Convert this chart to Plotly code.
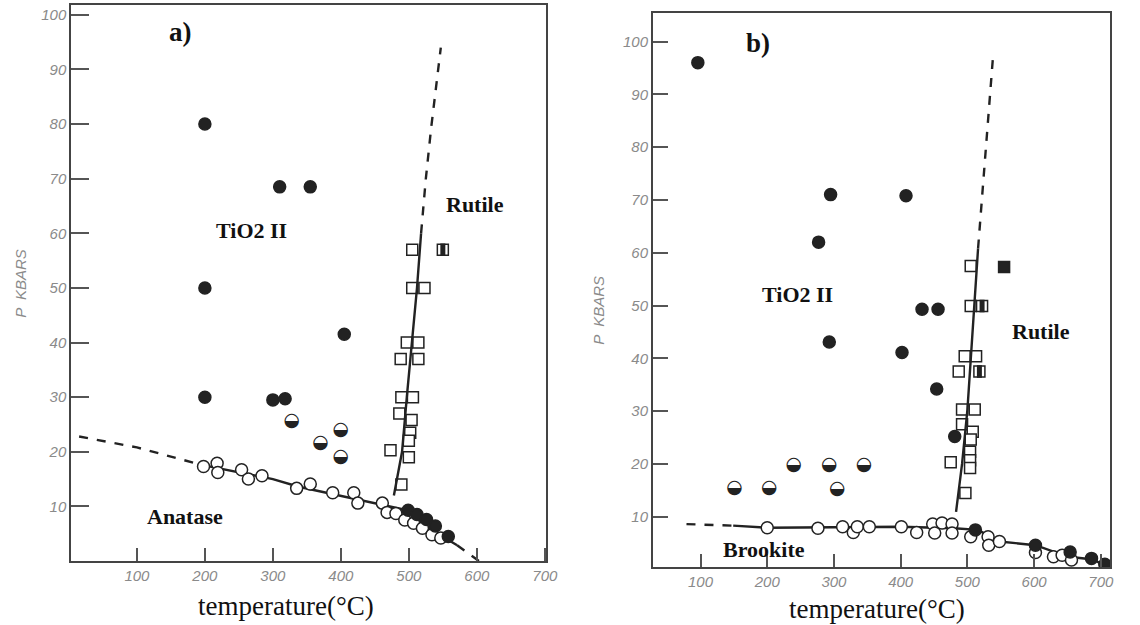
import plotly.graph_objects as go

# ---------------- Panel a data ----------------
a_ii_T = [200, 310, 355, 200, 405, 200, 300, 318]
a_ii_P = [80, 68.5, 68.5, 50, 41.5, 30, 29.5, 29.7]
a_half_T = [328, 370, 400, 400]
a_half_P = [25.5, 21.5, 24, 19]
a_open_T = [198, 218, 219, 254, 264, 284, 335, 355, 388, 419, 425, 461, 468, 481, 494, 507, 520, 534, 547]
a_open_P = [17.3, 17.9, 16.2, 16.7, 15.0, 15.6, 13.3, 14.1, 12.5, 12.5, 10.6, 10.6, 8.9, 8.7, 7.5, 6.9, 6.0, 4.8, 4.2]
a_dark_T = [499, 512, 526, 539, 558]
a_dark_P = [9.3, 8.5, 7.6, 6.4, 4.5]
a_sq_T = [505, 505, 523, 497, 514, 488, 514, 489, 506, 486, 504, 502, 473, 500, 500, 489]
a_sq_P = [57, 50, 50, 40, 40, 37, 37, 30, 30, 27, 25.8, 23.5, 20.3, 22, 19, 14]
a_hsq_T = [550]
a_hsq_P = [57]
a_rut_solid_T = [478, 490, 497, 505, 512, 518]
a_rut_solid_P = [12, 20, 30, 40, 50, 60]
a_rut_dash_T = [518, 525, 533, 540, 547]
a_rut_dash_P = [60, 70, 79.5, 87, 94]
a_ana_dash_T = [15, 100, 195]
a_ana_dash_P = [22.8, 20.8, 17.6]
a_ana_solid_T = [195, 300, 338, 428, 497, 533, 571]
a_ana_solid_P = [17.6, 15, 13.6, 11.2, 9.3, 5.7, 2.9]
a_ana_end_T = [571, 603]
a_ana_end_P = [2.9, 0]

# ---------------- Panel b data ----------------
b_ii_T = [96, 295, 408, 277, 432, 456, 293, 402, 454, 481]
b_ii_P = [96, 71, 70.8, 62, 49.3, 49.3, 43.1, 41.1, 34.2, 25.2]
b_half_T = [151, 203, 240, 293, 305, 345]
b_half_P = [15.3, 15.3, 19.8, 19.8, 15.2, 19.8]
b_open_T = [200, 276, 313, 329, 335, 353, 401, 424, 448, 451, 462, 477, 477, 505, 531, 532, 548, 602, 629, 642, 656]
b_open_P = [7.9, 7.8, 8.1, 7.0, 8.1, 8.1, 8.1, 7.0, 8.6, 6.9, 8.8, 8.6, 6.9, 6.2, 6.2, 4.6, 5.3, 3.2, 2.4, 2.7, 1.8]
b_dark_T = [512, 602, 654, 686, 706]
b_dark_P = [7.5, 4.6, 3.3, 2.1, 1.0]
b_sq_T = [505, 505, 496, 513, 487, 492, 511, 492, 508, 505, 504, 504, 504, 475, 497]
b_sq_P = [57.5, 49.9, 40.4, 40.4, 37.5, 30.3, 30.3, 27.5, 26.1, 24.6, 22.3, 20.7, 19.2, 20.3, 14.5]
b_hsq_T = [522, 518]
b_hsq_P = [49.9, 37.5]
b_fsq_T = [555]
b_fsq_P = [57.3]
b_rut_solid_T = [483, 492, 500, 505, 510, 516]
b_rut_solid_P = [10.9, 20, 30.2, 40, 47.9, 60.8]
b_rut_dash_T = [516, 527, 538]
b_rut_dash_P = [60.8, 79, 96.5]
b_brk_dash_T = [79, 149]
b_brk_dash_P = [8.6, 8.3]
b_brk_solid_T = [149, 200, 300, 400, 480, 516, 548, 602, 651, 689, 708]
b_brk_solid_P = [8.3, 7.9, 8.0, 8.1, 7.8, 7.5, 5.3, 4.6, 2.4, 1.9, 0.5]

x_ticks = [100, 200, 300, 400, 500, 600, 700]
y_ticks = [10, 20, 30, 40, 50, 60, 70, 80, 90, 100]

INK = "#222222"
fig = go.Figure()


def line(x, y, xa, ya, dash="solid", w=2.4):
    fig.add_trace(go.Scatter(x=x, y=y, mode="lines", xaxis=xa, yaxis=ya,
                             line=dict(color=INK, width=w, dash=dash), hoverinfo="skip"))


def marks(x, y, xa, ya, symbol, fill, size=12, lw=1.5):
    fig.add_trace(go.Scatter(x=x, y=y, mode="markers", xaxis=xa, yaxis=ya,
                             marker=dict(symbol=symbol, size=size, color=fill,
                                         line=dict(color=INK, width=lw))))


def glyph(x, y, xa, ya, ch, size=19):
    fig.add_trace(go.Scatter(x=x, y=y, mode="text", xaxis=xa, yaxis=ya,
                             text=[ch] * len(x), textposition="middle center",
                             textfont=dict(family="DejaVu Sans", size=size, color=INK)))


def half_square(x, y, xa, ya):
    marks(x, y, xa, ya, "square", "white", 11)
    marks(x, y, xa, ya, "line-ns", INK, 9, 5)


# Panel a
line(a_ana_dash_T, a_ana_dash_P, "x", "y", dash="dash")
line(a_ana_solid_T, a_ana_solid_P, "x", "y")
line(a_ana_end_T, a_ana_end_P, "x", "y", dash="dash")
marks(a_open_T, a_open_P, "x", "y", "circle", "white")
marks(a_dark_T, a_dark_P, "x", "y", "circle", INK)
marks(a_ii_T, a_ii_P, "x", "y", "circle", INK)
glyph(a_half_T, a_half_P, "x", "y", "◒")
marks(a_sq_T, a_sq_P, "x", "y", "square", "white", 11)
half_square(a_hsq_T, a_hsq_P, "x", "y")
line(a_rut_solid_T, a_rut_solid_P, "x", "y")
line(a_rut_dash_T, a_rut_dash_P, "x", "y", dash="dash")

# Panel b
line(b_brk_dash_T, b_brk_dash_P, "x2", "y2", dash="dash")
line(b_brk_solid_T, b_brk_solid_P, "x2", "y2")
marks(b_open_T, b_open_P, "x2", "y2", "circle", "white")
marks(b_dark_T, b_dark_P, "x2", "y2", "circle", INK)
marks(b_ii_T, b_ii_P, "x2", "y2", "circle", INK)
glyph(b_half_T, b_half_P, "x2", "y2", "◒")
marks(b_sq_T, b_sq_P, "x2", "y2", "square", "white", 11)
marks(b_fsq_T, b_fsq_P, "x2", "y2", "square", INK, 11)
half_square(b_hsq_T, b_hsq_P, "x2", "y2")
line(b_rut_solid_T, b_rut_solid_P, "x2", "y2")
line(b_rut_dash_T, b_rut_dash_P, "x2", "y2", dash="dash")

tickfont = dict(family="Liberation Sans", size=15, color="#8a8a8a", style="italic")
ax_common = dict(showgrid=False, zeroline=False, showline=True, mirror=True,
                 linecolor="#444444", linewidth=2, ticks="inside", tickcolor="#555555",
                 tickwidth=2, tickfont=tickfont)

fig.update_layout(
    width=1140, height=625, margin=dict(l=0, r=0, t=0, b=0),
    paper_bgcolor="white", plot_bgcolor="white", showlegend=False,
    xaxis=dict(domain=[0.0632, 0.4842], range=[3.5, 702], tickvals=x_ticks,
               ticklen=13, anchor="y", **ax_common),
    yaxis=dict(domain=[0.1024, 0.992], range=[0, 101.8], tickvals=y_ticks,
               ticklen=18, anchor="x", **ax_common),
    xaxis2=dict(domain=[0.5789, 0.9842], range=[28.8, 714], tickvals=x_ticks,
                ticklen=13, anchor="y2", **ax_common),
    yaxis2=dict(domain=[0.0928, 0.9792], range=[0.47, 105.4], tickvals=y_ticks,
                ticklen=15, anchor="x2", **ax_common),
)

serif_b = dict(family="Liberation Serif", color="#111111")
labels = [
    ("x", "y", 164, 96.9, "a)", 27),
    ("x", "y", 269, 60.6, "TiO2 II", 22),
    ("x", "y", 597, 65.2, "Rutile", 22),
    ("x", "y", 171, 8.1, "Anatase", 22),
    ("x2", "y2", 186, 99.7, "b)", 27),
    ("x2", "y2", 245, 52, "TiO2 II", 22),
    ("x2", "y2", 610, 45, "Rutile", 22),
    ("x2", "y2", 195, 3.7, "Brookite", 22),
]
for xr, yr, xv, yv, txt, sz in labels:
    fig.add_annotation(xref=xr, yref=yr, x=xv, y=yv, text="<b>%s</b>" % txt,
                       showarrow=False, font=dict(size=sz, **serif_b))

for xp, yp in [(289 / 1140, 1 - 606 / 625), (886 / 1140, 1 - 609 / 625)]:
    fig.add_annotation(xref="paper", yref="paper", x=xp, y=yp, text="temperature(°C)",
                       xanchor="center", yanchor="middle",
                       showarrow=False, font=dict(family="Liberation Serif", size=27, color="#111111"))

for xp, yp in [(20 / 1140, 1 - 283 / 625), (604 / 1140, 1 - 310 / 625)]:
    fig.add_annotation(xref="paper", yref="paper", x=xp, y=yp, text="P  KBARS", textangle=-90,
                       xanchor="center", yanchor="middle", showarrow=False,
                       font=dict(family="Liberation Sans", size=15, color="#8a8a8a", style="italic"))

fig.write_html("out.html")
